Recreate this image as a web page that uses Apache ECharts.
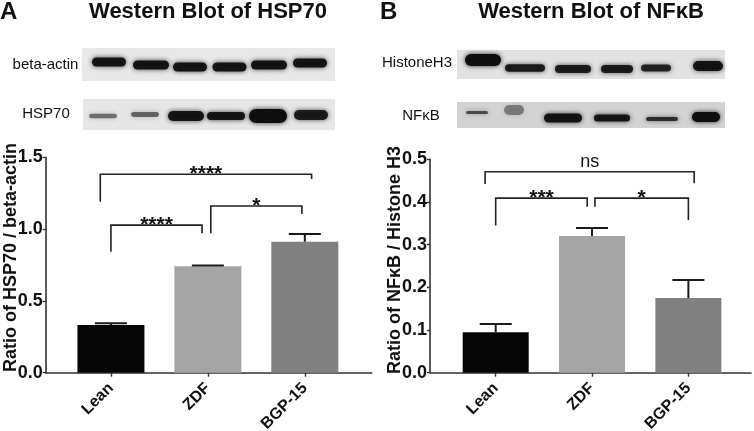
<!DOCTYPE html>
<html>
<head>
  <meta charset="UTF-8"/>
  <title>Western Blot</title>
  <style>
    html, body { margin: 0; padding: 0; background: #fff; }
    #main { width: 754px; height: 431px; }
  </style>
</head>
<body>
<div id="main"></div>
<script src="https://cdn.jsdelivr.net/npm/echarts@6/dist/echarts.min.js"></script>
<script type="text/javascript">
    // groups and bar colours
    const categories = ['Lean', 'ZDF', 'BGP-15'];
    const barColors = ['#050505', '#a5a5a5', '#808080'];

    // panel A: HSP70 / beta-actin
    const hspMean = [0.332, 0.742, 0.912];
    const hspErr = [0.012, 0.004, 0.054];
    const hspTicks = [0, 0.5, 1.0, 1.5];
    // brackets: [x left, x right, left leg end, right leg end, top]
    const hspBrackets = [
        [1.00, 1.94, 0.843, 0.971, 1.028],
        [2.03, 2.97, 0.971, 1.105, 1.161],
        [0.89, 3.07, 1.191, 1.349, 1.382]
    ];
    const hspStars = ['****', '*', '****'];

    // panel B: NFkB / Histone H3
    const nfkbMean = [0.095, 0.320, 0.175];
    const nfkbErr = [0.019, 0.019, 0.042];
    const nfkbTicks = [0, 0.1, 0.2, 0.3, 0.4, 0.5];
    const nfkbBrackets = [
        [1.00, 1.95, 0.345, 0.389, 0.409],
        [2.03, 3.00, 0.389, 0.358, 0.409],
        [0.89, 3.06, 0.442, 0.444, 0.471]
    ];
    const nfkbStars = ['***', '*', 'ns'];

    const font = 'Liberation Sans, Arial, sans-serif';
    const ink = '#111';
    const axisInk = '#333';

    let myChart = echarts.init(document.getElementById('main'));

    function barData(means) {
        return means.map((v, i) => ({value: [i + 1, v], itemStyle: {color: barColors[i]}}));
    }
    function errData(means, errs) {
        return means.map((v, i) => [i + 1, v, errs[i]]);
    }

    //误差线: line from bar top up to mean+err, with a cap
    function renderErr(params, api) {
        const x = api.value(0), m = api.value(1), e = api.value(2);
        const p0 = api.coord([x, m]);
        const p1 = api.coord([x, m + e]);
        const st = {stroke: '#1a1a1a', lineWidth: 2};
        return {
            type: 'group',
            children: [
                {type: 'line', shape: {x1: p0[0], y1: p0[1], x2: p1[0], y2: p1[1]}, style: st},
                {type: 'line', shape: {x1: p1[0] - 16, y1: p1[1], x2: p1[0] + 16, y2: p1[1]}, style: st}
            ]
        };
    }

    function makeBracketRender(texts) {
        return function (params, api) {
            const x1 = api.value(0), x2 = api.value(1);
            const yl = api.value(2), yr = api.value(3), yt = api.value(4);
            const a = api.coord([x1, yl]), b = api.coord([x1, yt]);
            const c = api.coord([x2, yt]), d = api.coord([x2, yr]);
            const label = texts[params.dataIndex];
            const isNs = label === 'ns';
            return {
                type: 'group',
                children: [
                    {
                        type: 'polyline',
                        shape: {points: [a, b, c, d]},
                        style: {stroke: '#222', lineWidth: 1.6, fill: null}
                    },
                    {
                        type: 'text',
                        x: (b[0] + c[0]) / 2,
                        y: isNs ? b[1] - 10 : b[1],
                        style: {
                            text: label,
                            fontSize: isNs ? 18 : 21,
                            fontWeight: isNs ? 'normal' : 'bold',
                            fontFamily: font,
                            fill: ink,
                            align: 'center',
                            verticalAlign: 'middle'
                        }
                    }
                ]
            };
        };
    }

    function xAxisOf(gridIndex, min, max) {
        return {
            type: 'value',
            gridIndex: gridIndex,
            min: min,
            max: max,
            splitLine: {show: false},
            axisLine: {show: true, lineStyle: {color: axisInk, width: 1.6}},
            axisTick: {show: true, customValues: [1, 2, 3], length: 4, lineStyle: {color: axisInk, width: 1.4}},
            axisLabel: {
                customValues: [1, 2, 3],
                formatter: v => categories[Math.round(v) - 1],
                rotate: 45,
                margin: 13,
                fontSize: 16,
                fontWeight: 'bold',
                fontFamily: font,
                color: ink
            }
        };
    }

    function yAxisOf(gridIndex, ticks, name, pad, gap) {
        return {
            type: 'value',
            gridIndex: gridIndex,
            min: ticks[0],
            max: ticks[ticks.length - 1],
            interval: ticks[1] - ticks[0],
            name: name,
            nameLocation: 'middle',
            nameGap: gap,
            nameMoveOverlap: false,
            nameTextStyle: {fontSize: 18, fontWeight: 'bold', fontFamily: font, color: ink, padding: [0, 0, 0, pad]},
            splitLine: {show: false},
            axisLine: {show: true, lineStyle: {color: axisInk, width: 1.6}},
            axisTick: {show: true, length: 3, lineStyle: {color: axisInk, width: 1.4}},
            axisLabel: {
                formatter: v => v.toFixed(1),
                margin: 3,
                fontSize: 18,
                fontWeight: 'bold',
                fontFamily: font,
                color: ink
            }
        };
    }

    // blot strips (decoration only): bands are [cx, cy, half width, half height, darkness]
    const strips = [
        {x: 82, y: 48, w: 253, h: 33, fill: '#e8e8e8',
            bands: [[109, 62, 17, 4.5, 0.95], [151, 65, 18, 4.5, 0.95], [190, 67, 17, 4.5, 0.95],
                [229.5, 67, 17, 4.5, 0.95], [269, 65, 18, 4.5, 0.95], [310, 63, 17, 4.5, 0.95]]},
        {x: 83, y: 99, w: 252, h: 31, fill: '#e6e6e6',
            bands: [[103, 116, 14, 2.2, 0.5], [145, 114.5, 14, 2.4, 0.55], [186, 116, 18, 5, 0.95],
                [226, 116, 19, 4, 0.95], [268, 116, 19, 7, 1], [311, 115, 17, 5, 0.9]]},
        {x: 457, y: 50, w: 268, h: 29, fill: '#e2e2e2',
            bands: [[483, 60, 18, 6, 1], [525, 68, 20, 3.8, 0.9], [573, 69, 18, 4, 0.9],
                [617, 69, 16, 4, 0.9], [656, 68, 15, 3.5, 0.85], [708, 66, 15, 5, 0.95]]},
        {x: 457, y: 102, w: 268, h: 26, fill: '#d3d3d3',
            bands: [[477, 112.5, 11, 1.5, 0.65], [514, 110, 10, 5, 0.4], [563, 118, 19, 4.5, 0.95],
                [612, 118, 18, 3.5, 0.95], [662, 119, 16, 2, 0.8], [706, 117, 14, 5, 1]]}
    ];
    const graphics = [];
    strips.forEach(s => {
        graphics.push({type: 'rect', shape: {x: s.x, y: s.y, width: s.w, height: s.h}, style: {fill: s.fill}, z: 1});
        s.bands.forEach(b => {
            graphics.push({
                type: 'rect',
                shape: {x: b[0] - b[2], y: b[1] - b[3], width: b[2] * 2, height: b[3] * 2, r: b[3]},
                style: {fill: 'rgba(15,15,15,' + b[4] + ')', shadowBlur: 5, shadowColor: 'rgba(0,0,0,' + (b[4] * 0.8) + ')'},
                z: 2
            });
        });
    });
    const blotLabels = [
        ['beta-actin', 45.5, 65], ['HSP70', 46, 114],
        ['HistoneH3', 417, 63], ['NFκB', 421, 116]
    ];
    blotLabels.forEach(l => {
        graphics.push({
            type: 'text', x: l[1], y: l[2], z: 3,
            style: {text: l[0], fontSize: 15, fontFamily: font, fill: ink, align: 'center', verticalAlign: 'middle'}
        });
    });

    const titleStyle = {fontSize: 22, fontWeight: 'bold', fontFamily: font, color: ink};
    const letterStyle = {fontSize: 24, fontWeight: 'bold', fontFamily: font, color: ink};

    let option = {
        backgroundColor: '#fff',
        animation: false,
        title: [
            {text: 'A', left: 0, top: 0, padding: 0, textStyle: letterStyle},
            {text: 'B', left: 380, top: 0, padding: 0, textStyle: letterStyle},
            {text: 'Western Blot of HSP70', left: 208, top: 1, padding: 0, textAlign: 'center', textStyle: titleStyle},
            {text: 'Western Blot of NFκB', left: 591, top: 1, padding: 0, textAlign: 'center', textStyle: titleStyle}
        ],
        graphic: graphics,
        grid: [
            {left: 45.7, right: 382.3, top: 157.3, bottom: 58.3, containLabel: false, outerBoundsMode: 'none'},
            {left: 430, right: 3, top: 159.3, bottom: 58.3, containLabel: false, outerBoundsMode: 'none'}
        ],
        xAxis: [xAxisOf(0, 0.327, 3.69), xAxisOf(1, 0.318, 3.65)],
        yAxis: [
            yAxisOf(0, hspTicks, 'Ratio of HSP70 / beta-actin', 15, 26),
            yAxisOf(1, nfkbTicks, 'Ratio of NFκB / Histone H3', 12, 26)
        ],
        series: [
            {type: 'bar', xAxisIndex: 0, yAxisIndex: 0, barWidth: 67, data: barData(hspMean)},
            {type: 'custom', xAxisIndex: 0, yAxisIndex: 0, renderItem: renderErr, data: errData(hspMean, hspErr), z: 3},
            {type: 'custom', xAxisIndex: 0, yAxisIndex: 0, renderItem: makeBracketRender(hspStars), data: hspBrackets, z: 3},
            {type: 'bar', xAxisIndex: 1, yAxisIndex: 1, barWidth: 66, data: barData(nfkbMean)},
            {type: 'custom', xAxisIndex: 1, yAxisIndex: 1, renderItem: renderErr, data: errData(nfkbMean, nfkbErr), z: 3},
            {type: 'custom', xAxisIndex: 1, yAxisIndex: 1, renderItem: makeBracketRender(nfkbStars), data: nfkbBrackets, z: 3}
        ]
    };
    myChart.setOption(option);
</script>
</body>
</html>
